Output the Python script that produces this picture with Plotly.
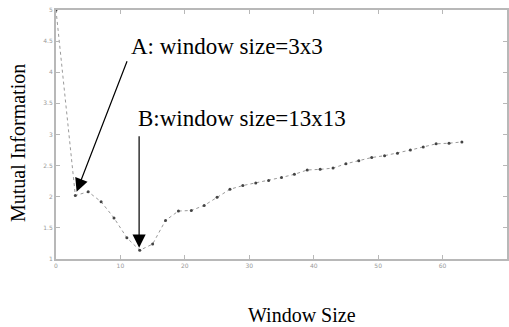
import plotly.graph_objects as go

window_size = [0, 3, 5, 7, 9, 11, 13, 15, 17, 19, 21, 23, 25, 27, 29, 31, 33, 35,
               37, 39, 41, 43, 45, 47, 49, 51, 53, 55, 57, 59, 61, 63]
mutual_info = [5.0, 2.02, 2.08, 1.92, 1.66, 1.34, 1.14, 1.24, 1.62, 1.77, 1.78, 1.86,
               1.99, 2.12, 2.18, 2.22, 2.26, 2.31, 2.36, 2.43, 2.44, 2.46, 2.53, 2.58,
               2.63, 2.66, 2.70, 2.75, 2.80, 2.85, 2.86, 2.88]
x_ticks = [0, 10, 20, 30, 40, 50, 60, 70]
y_ticks = [1, 1.5, 2, 2.5, 3, 3.5, 4, 4.5, 5]
y_tick_labels = ["1", "1.5", "2", "2.5", "3", "3.5", "4", "4.5", "5"]

serif = "Liberation Serif, Times New Roman, serif"

fig = go.Figure()
fig.add_trace(go.Scatter(
    x=window_size, y=mutual_info, mode="lines+markers",
    line=dict(color="#9a9a9a", width=1, dash="dot"),
    marker=dict(color="#444444", size=3),
    showlegend=False,
))

axis_common = dict(
    showline=True, linecolor="#b8b8b8", linewidth=2, mirror="ticks",
    ticks="inside", ticklen=4, tickcolor="#b8b8b8", tickwidth=1,
    showgrid=False, zeroline=False, automargin=False,
    tickfont=dict(family="DejaVu Sans, sans-serif", size=6, color="#999999"),
)

fig.update_layout(
    width=509, height=327,
    margin=dict(l=56, r=2, t=10, b=68),
    paper_bgcolor="white", plot_bgcolor="white",
    xaxis=dict(range=[0, 70], tickvals=x_ticks, **axis_common),
    yaxis=dict(range=[1, 5], tickvals=y_ticks, ticktext=y_tick_labels, **axis_common),
)

# axis titles
fig.add_annotation(text="Window Size", xref="paper", yref="paper", x=0.545, y=-0.225,
                   xanchor="center", yanchor="middle", showarrow=False,
                   font=dict(family=serif, size=20, color="black"))
fig.add_annotation(text="Mutual Information", xref="paper", yref="paper", x=-0.084, y=0.466,
                   textangle=-90, xanchor="center", yanchor="middle", showarrow=False,
                   font=dict(family=serif, size=20, color="black"))

# labels
fig.add_annotation(text="A: window size=3x3", x=11.4, y=4.42, xanchor="left",
                   showarrow=False, font=dict(family=serif, size=23, color="black"))
fig.add_annotation(text="B:window size=13x13", x=12.45, y=3.26, xanchor="left",
                   showarrow=False, font=dict(family=serif, size=23, color="black"))

# arrows
fig.add_annotation(text="", x=3.2, y=2.08, ax=51, ay=-132, showarrow=True,
                   arrowhead=2, arrowsize=2.2, arrowwidth=1.2, arrowcolor="black")
fig.add_annotation(text="", x=12.9, y=1.18, ax=0, ay=-113, showarrow=True,
                   arrowhead=2, arrowsize=2.2, arrowwidth=1.2, arrowcolor="black")

fig.write_html("out.html",
               config={"displayModeBar": False},
               post_script="document.body.style.margin='0';document.body.style.overflow='hidden';")
